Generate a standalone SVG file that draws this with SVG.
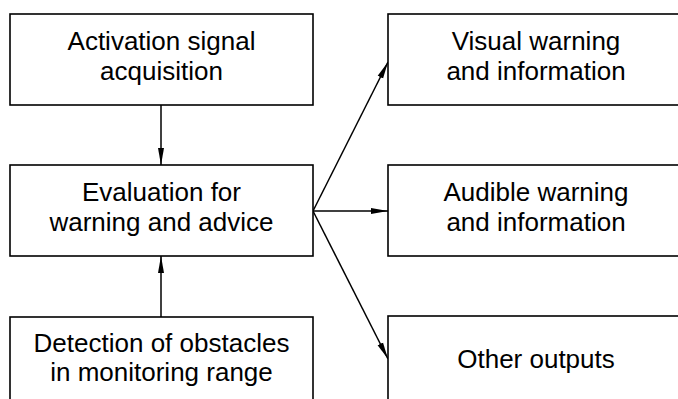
<svg xmlns="http://www.w3.org/2000/svg" width="678" height="399" viewBox="0 0 678 399">
<defs>
<style>
.box{fill:#fff;stroke:#000;stroke-width:1.6}
.t{font-family:"Liberation Sans",Arial,sans-serif;font-size:26px;fill:#000;text-anchor:middle}
.c{stroke:#000;stroke-width:1.5;fill:none;marker-end:url(#ah)}
</style>
<marker id="ah" markerUnits="userSpaceOnUse" markerWidth="18" markerHeight="8" viewBox="0 0 18 8" refX="17" refY="4" orient="auto">
<path d="M0,1 L17,4 L0,7 Z" fill="#000"/>
</marker>
</defs>
<rect width="678" height="399" fill="#fff"/>
<g id="connectors">
<line class="c" x1="161" y1="105" x2="161" y2="165"/>
<line class="c" x1="161" y1="317" x2="161" y2="256"/>
<line class="c" x1="313" y1="211" x2="388" y2="62"/>
<line class="c" x1="313" y1="211" x2="388" y2="211"/>
<line class="c" x1="313" y1="211" x2="388" y2="359"/>
</g>
<g id="n1">
<rect class="box" x="10" y="14" width="303" height="91"/>
<text class="t" x="161.5" y="50">Activation signal</text>
<text class="t" x="161.5" y="80">acquisition</text>
</g>
<g id="n2">
<rect class="box" x="10" y="165" width="303" height="91"/>
<text class="t" x="161.5" y="201">Evaluation for</text>
<text class="t" x="161.5" y="231">warning and advice</text>
</g>
<g id="n3">
<rect class="box" x="10" y="317" width="303" height="100"/>
<text class="t" x="161.5" y="352">Detection of obstacles</text>
<text class="t" x="161.5" y="381">in monitoring range</text>
</g>
<g id="n4">
<rect class="box" x="388" y="14" width="300" height="91"/>
<text class="t" x="536" y="50">Visual warning</text>
<text class="t" x="536" y="80">and information</text>
</g>
<g id="n5">
<rect class="box" x="388" y="165" width="300" height="91"/>
<text class="t" x="536" y="201">Audible warning</text>
<text class="t" x="536" y="231">and information</text>
</g>
<g id="n6">
<rect class="box" x="388" y="316" width="300" height="100"/>
<text class="t" x="536" y="368">Other outputs</text>
</g>
</svg>
